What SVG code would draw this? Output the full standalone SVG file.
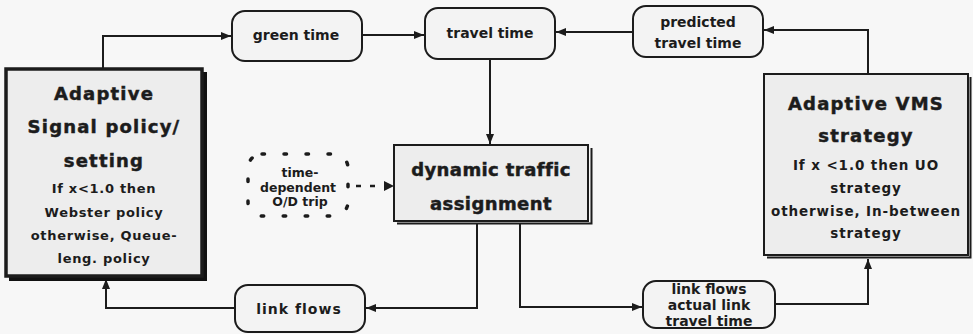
<svg xmlns="http://www.w3.org/2000/svg" width="973" height="334" viewBox="0 0 973 334">
  <style>
    text { font-family: "DejaVu Sans", "Liberation Sans", sans-serif; font-weight: bold; fill: #1c1c1c; text-anchor: middle; }
    .title { font-size: 18px; letter-spacing: 1.2px; stroke: #1c1c1c; stroke-width: 0.5px; }
    .dta { font-size: 18px; letter-spacing: 0.4px; stroke: #1c1c1c; stroke-width: 0.5px; }
    .small { font-size: 13px; letter-spacing: 0.7px; }
    .smallr { font-size: 13.5px; letter-spacing: 0.9px; }
    .lbl { font-size: 14px; }
    .od { font-size: 12.5px; }
    .box { fill: #f3f3f3; stroke: #1c1c1c; stroke-width: 2; }
    .big { fill: #ededed; stroke: #1c1c1c; }
    .wire { fill: none; stroke: #1c1c1c; stroke-width: 2; }
    .dash { fill: none; stroke: #1c1c1c; stroke-width: 2.5; stroke-dasharray: 5 9; }
    .dots { fill: none; stroke: #1c1c1c; stroke-width: 3.5; stroke-dasharray: 2.5 19.5; stroke-linecap: round; }
  </style>
  <defs>
    <marker id="arrow" viewBox="0 0 10 10" refX="10" refY="5" markerWidth="10" markerHeight="10" markerUnits="userSpaceOnUse" orient="auto">
      <path d="M0,1 L10,5 L0,9 Z" fill="#1c1c1c"/>
    </marker>
  </defs>

  <rect width="973" height="334" fill="#f7f7f7"/>

  <!-- connectors -->
  <g id="connectors">
    <path class="wire" d="M103,69 V36 H231" marker-end="url(#arrow)"/>
    <path class="wire" d="M362,35 H424" marker-end="url(#arrow)"/>
    <path class="wire" d="M633,32 H556" marker-end="url(#arrow)"/>
    <path class="wire" d="M868,74 V30 H764" marker-end="url(#arrow)"/>
    <path class="wire" d="M490,59 V144" marker-end="url(#arrow)"/>
    <path class="dash" d="M356,186 H384"/>
    <path d="M384,181 L394,186 L384,191 Z" fill="#1c1c1c"/>
    <path class="wire" d="M477,224 V308 H366" marker-end="url(#arrow)"/>
    <path class="wire" d="M520,224 V307 H642" marker-end="url(#arrow)"/>
    <path class="wire" d="M775,304 H868 V259" marker-end="url(#arrow)"/>
    <path class="wire" d="M235,308 H106 V279" marker-end="url(#arrow)"/>
  </g>

  <!-- adaptive signal policy -->
  <g id="signal-policy">
    <path d="M202,72 H207 V281 H9 V276 H202 Z" fill="#111"/>
    <rect class="big" x="6" y="69" width="196" height="207" stroke-width="3.5"/>
    <text class="title" x="104" y="100">Adaptive</text>
    <text class="title" x="104" y="133">Signal policy/</text>
    <text class="title" x="104" y="167">setting</text>
    <text class="small" x="104" y="193">If x&lt;1.0 then</text>
    <text class="small" x="104" y="217">Webster policy</text>
    <text class="small" x="104" y="240">otherwise, Queue-</text>
    <text class="small" x="104" y="263">leng. policy</text>
  </g>

  <!-- green time -->
  <g id="green-time">
    <rect class="box" x="232" y="11" width="130" height="50" rx="13"/>
    <text class="lbl" x="296" y="40">green time</text>
  </g>

  <!-- travel time -->
  <g id="travel-time">
    <rect class="box" x="425" y="8" width="130" height="51" rx="13"/>
    <text class="lbl" x="490" y="38">travel time</text>
  </g>

  <!-- predicted travel time -->
  <g id="predicted-travel-time">
    <rect class="box" x="633" y="6" width="130" height="51" rx="13"/>
    <text class="lbl" x="698" y="27">predicted</text>
    <text class="lbl" x="698" y="48">travel time</text>
  </g>

  <!-- adaptive VMS strategy -->
  <g id="vms-strategy">
    <path class="wire" d="M767,257.5 H970.5 V77" stroke-width="1.5"/>
    <rect class="big" x="764" y="74" width="204" height="181" stroke-width="2"/>
    <text class="title" x="866" y="110">Adaptive VMS</text>
    <text class="title" x="866" y="142">strategy</text>
    <text class="smallr" x="866" y="170">If x &lt;1.0 then UO</text>
    <text class="smallr" x="866" y="193">strategy</text>
    <text class="smallr" x="866" y="216">otherwise, In-between</text>
    <text class="smallr" x="866" y="238">strategy</text>
  </g>

  <!-- time-dependent O/D trip -->
  <g id="od-trip">
    <rect class="dots" x="248" y="154" width="100" height="62" rx="14"/>
    <text class="od" x="300" y="177">time-</text>
    <text class="od" x="298" y="192">dependent</text>
    <text class="od" x="300" y="206">O/D trip</text>
  </g>

  <!-- dynamic traffic assignment -->
  <g id="traffic-assignment">
    <path class="wire" d="M397,223.5 H591.5 V148" stroke-width="1.5"/>
    <rect class="big" x="394" y="145" width="194" height="76" stroke-width="2"/>
    <text class="dta" x="491" y="176">dynamic traffic</text>
    <text class="dta" x="491" y="210">assignment</text>
  </g>

  <!-- link flows -->
  <g id="link-flows">
    <rect class="box" x="235" y="285" width="130" height="47" rx="13"/>
    <text class="lbl" x="299" y="314" style="letter-spacing:1px">link flows</text>
  </g>

  <!-- link flows, actual link travel time -->
  <g id="link-travel-time">
    <rect class="box" x="643" y="281" width="132" height="47" rx="13"/>
    <text class="lbl" x="709" y="294">link flows</text>
    <text class="lbl" x="709" y="310">actual link</text>
    <text class="lbl" x="709" y="326">travel time</text>
  </g>
</svg>
